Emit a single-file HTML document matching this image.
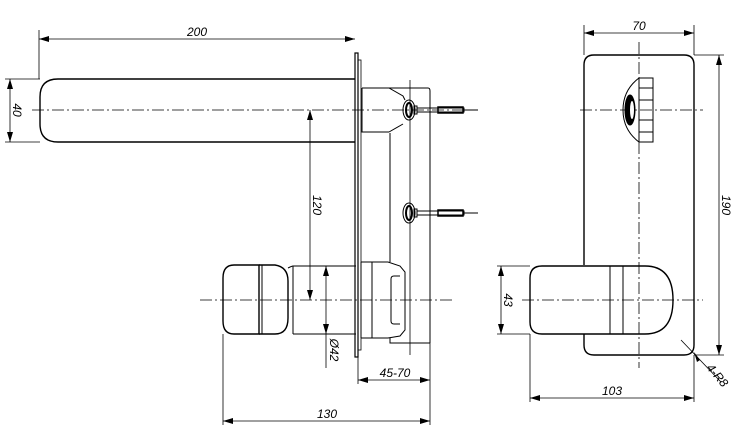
<!DOCTYPE html>
<html><head><meta charset="utf-8"><style>
html,body{margin:0;padding:0;background:#fff}
svg{display:block}
text{font-family:"Liberation Sans",sans-serif;font-style:italic;font-size:12px;fill:#000}
</style></head><body>
<svg width="742" height="445" viewBox="0 0 742 445" xmlns="http://www.w3.org/2000/svg">
<defs>
<marker id="a" viewBox="0 0 10 6" refX="10" refY="3" markerWidth="10" markerHeight="6" orient="auto-start-reverse" markerUnits="userSpaceOnUse"><path d="M0,0L10,3L0,6z" fill="#000"/></marker>
</defs>
<g fill="none" stroke="#000" stroke-width="1">
<!-- center lines -->
<g stroke-width="0.8" stroke-dasharray="12,3,2,3">
<line x1="32" y1="110" x2="478" y2="110"/>
<line x1="200" y1="300" x2="452" y2="300"/>
<line x1="580" y1="110" x2="703" y2="110"/>
<line x1="522" y1="300" x2="703" y2="300"/>
<line x1="639" y1="42" x2="639" y2="368"/>
</g>
<!-- spout -->
<path d="M355,79 H58 Q40,79 40,97 V124 Q40,142 58,142 H355" stroke-width="1.4"/>
<!-- plate -->
<rect x="355" y="53" width="3" height="304" stroke-width="1.2"/>
<rect x="358" y="60" width="3" height="290" stroke-width="0.8"/>
<!-- housing -->
<path d="M362,88 H389 L403,96 L405,100 M389,132 L403,124 M362,88 V132 H389"/>
<path d="M389,88 H428 Q430,88 430,91 V343"/>
<path d="M390,133 V262"/>
<line x1="410" y1="80" x2="410" y2="355" stroke-width="0.8"/>
<path d="M390,338 V343 H430"/>
<!-- screws -->
<g id="sc">
<ellipse cx="409" cy="110" rx="6" ry="10"/>
<ellipse cx="409" cy="110" rx="3" ry="7" stroke-width="2"/>
<rect x="414" y="106" width="3" height="8"/>
<rect x="417" y="108" width="47" height="4"/>
<rect x="438" y="107" width="25" height="6" stroke-width="1.5"/>
<line x1="464" y1="110" x2="478" y2="110"/>
</g>
<use href="#sc" transform="translate(0,103)"/>
<!-- lower section -->
<path d="M288,268 Q292,266 293,266 H356 M293,334 H356 M293,266 V334"/>
<path d="M361,262 H388 L400,266 L405,272 V330 L400,336 L388,338 H361 M372,262 V338 M361,262 V338"/>
<path d="M400,276 H394 Q391,276 391,279 V321 Q391,324 394,324 H400"/>
<!-- handle -->
<path d="M259,265 H234 Q223,265 223,278 V321 Q223,334 234,334 H259 Z" stroke-width="1.4"/>
<path d="M259,265 H275 Q288,267 288,281 V318 Q288,334 275,334 H259" stroke-width="1.4"/>
<line x1="262" y1="265" x2="262" y2="334"/>
<!-- dims left -->
<g stroke-width="0.8">
<line x1="39" y1="30" x2="39" y2="79"/>
<line x1="39" y1="39" x2="355" y2="39" marker-start="url(#a)" marker-end="url(#a)"/>
<line x1="5" y1="79" x2="40" y2="79"/><line x1="5" y1="142" x2="40" y2="142"/>
<line x1="10" y1="79" x2="10" y2="142" marker-start="url(#a)" marker-end="url(#a)"/>
<line x1="310" y1="110" x2="310" y2="300" marker-start="url(#a)" marker-end="url(#a)"/>
<line x1="326" y1="266" x2="326" y2="334" marker-start="url(#a)" marker-end="url(#a)"/>
<line x1="326" y1="334" x2="326" y2="368"/>
<line x1="358" y1="357" x2="358" y2="384"/>
<line x1="430" y1="343" x2="430" y2="425"/>
<line x1="358" y1="380" x2="430" y2="380" marker-start="url(#a)" marker-end="url(#a)"/>
<line x1="223" y1="334" x2="223" y2="425"/>
<line x1="223" y1="421" x2="430" y2="421" marker-start="url(#a)" marker-end="url(#a)"/>
</g>
<!-- right view -->
<path d="M584,265 V65 Q584,55 594,55 H684 Q694,55 694,65 V345 Q694,355 684,355 H594 Q584,355 584,345 V334" stroke-width="1.4"/>
<path d="M653,78 H639 V142 H653 Z M639,88 H653 M639,100 H653 M639,120 H653 M639,132 H653"/>
<path d="M639,78 Q623,90 623,110 Q623,130 639,142"/>
<ellipse cx="630" cy="110" rx="5" ry="15" fill="#000"/>
<ellipse cx="632" cy="110" rx="2" ry="9" fill="#fff" stroke="none"/>
<path d="M645,266 H542 Q530,266 530,278 V322 Q530,334 542,334 H645 Q673,334 673,300 Q673,266 645,266 Z" stroke-width="1.4"/>
<line x1="610" y1="266" x2="610" y2="334"/><line x1="623" y1="266" x2="623" y2="334"/>
<g stroke-width="0.8">
<line x1="584" y1="25" x2="584" y2="55"/><line x1="694" y1="25" x2="694" y2="55"/>
<line x1="584" y1="33" x2="694" y2="33" marker-start="url(#a)" marker-end="url(#a)"/>
<line x1="694" y1="55" x2="724" y2="55"/><line x1="694" y1="355" x2="724" y2="355"/>
<line x1="719" y1="55" x2="719" y2="355" marker-start="url(#a)" marker-end="url(#a)"/>
<line x1="497" y1="266" x2="530" y2="266"/><line x1="497" y1="334" x2="530" y2="334"/>
<line x1="501" y1="266" x2="501" y2="334" marker-start="url(#a)" marker-end="url(#a)"/>
<line x1="530" y1="334" x2="530" y2="402"/><line x1="694" y1="355" x2="694" y2="402"/>
<line x1="530" y1="398" x2="694" y2="398" marker-start="url(#a)" marker-end="url(#a)"/>
<line x1="681" y1="340" x2="721" y2="382" />
</g>
<path d="M694,352 L700,360 L697,362 Z" fill="#000" stroke="none"/>
</g>
<text x="197" y="36" text-anchor="middle">200</text>
<text transform="translate(13,110) rotate(90)" text-anchor="middle">40</text>
<text transform="translate(313,205) rotate(90)" text-anchor="middle">120</text>
<text transform="translate(330,350) rotate(90)" text-anchor="middle">Ø42</text>
<text x="395" y="377" text-anchor="middle">45-70</text>
<text x="327" y="418" text-anchor="middle">130</text>
<text x="639" y="30" text-anchor="middle">70</text>
<text transform="translate(722,205) rotate(90)" text-anchor="middle">190</text>
<text transform="translate(504,300) rotate(90)" text-anchor="middle">43</text>
<text x="612" y="395" text-anchor="middle">103</text>
<text transform="translate(706,368) rotate(50)">4-R8</text>
</svg>
</body></html>
